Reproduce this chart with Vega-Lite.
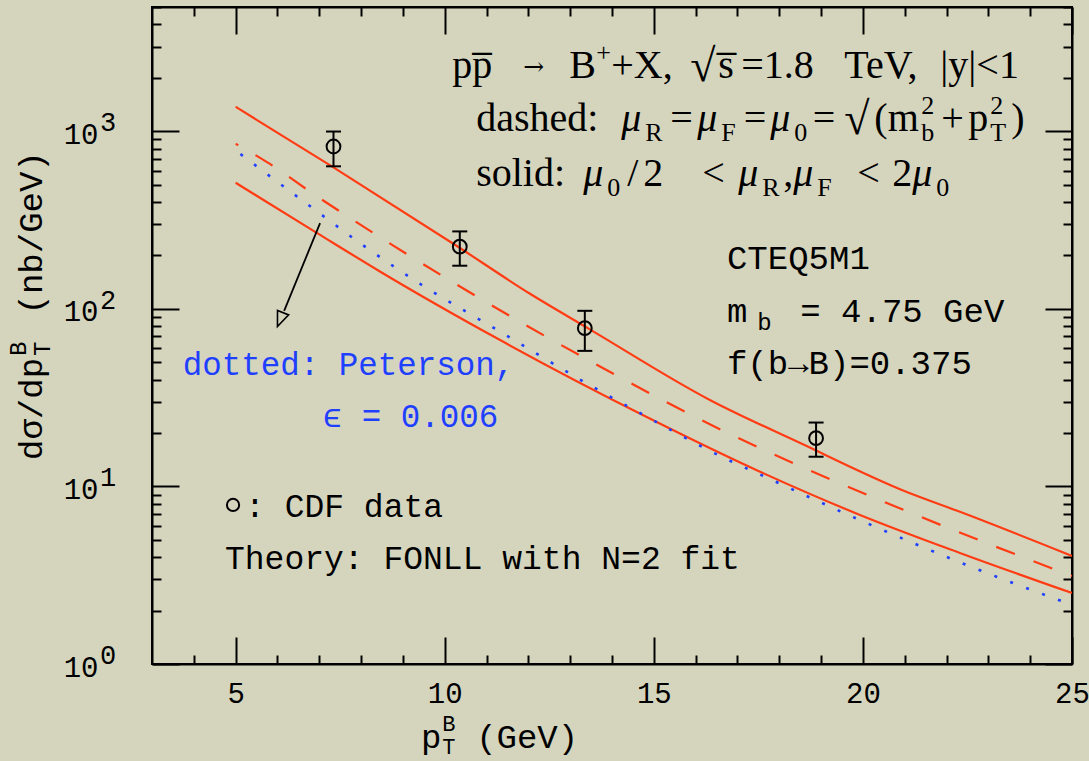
{
  "$schema": "https://vega.github.io/schema/vega-lite/v6.json",
  "width": 920,
  "height": 657,
  "autosize": {"type": "none"},
  "padding": {"left": 152, "top": 7, "right": 17, "bottom": 97},
  "background": "#d5d5be",
  "config": {
    "view": {"stroke": "black", "strokeWidth": 2, "fill": "#d5d5be"},
    "axis": {"grid": false, "title": null, "domainColor": "black", "domainWidth": 2, "tickColor": "black", "tickWidth": 2, "labelColor": "black", "labelOverlap": false, "labelFlush": false, "labelBound": false}
  },
  "datasets": {
    "curves": [
      {"series": "upper", "pt": 5.0, "v": 1374}, {"series": "upper", "pt": 7.32, "v": 630}, {"series": "upper", "pt": 10.29, "v": 226},
      {"series": "upper", "pt": 12.03, "v": 122}, {"series": "upper", "pt": 13.47, "v": 76.7}, {"series": "upper", "pt": 16.34, "v": 30.7},
      {"series": "upper", "pt": 18.49, "v": 17.6}, {"series": "upper", "pt": 21.05, "v": 9.3}, {"series": "upper", "pt": 22.32, "v": 7.2},
      {"series": "upper", "pt": 25.0, "v": 4.06},
      {"series": "lower", "pt": 5.0, "v": 513}, {"series": "lower", "pt": 6.94, "v": 268}, {"series": "lower", "pt": 8.44, "v": 163},
      {"series": "lower", "pt": 11.27, "v": 67.8}, {"series": "lower", "pt": 14.83, "v": 24.6}, {"series": "lower", "pt": 17.54, "v": 12.1},
      {"series": "lower", "pt": 19.93, "v": 6.91}, {"series": "lower", "pt": 22.32, "v": 4.22}, {"series": "lower", "pt": 25.0, "v": 2.51}
    ],
    "central": [
      {"pt": 5.0, "v": 851}, {"pt": 5.74, "v": 673}, {"pt": 6.89, "v": 439}, {"pt": 8.49, "v": 250}, {"pt": 11.72, "v": 86.7},
      {"pt": 14.19, "v": 41.2}, {"pt": 16.08, "v": 24.0}, {"pt": 17.8, "v": 15.4}, {"pt": 21.27, "v": 6.91}, {"pt": 25.0, "v": 3.13}
    ],
    "peterson": [
      {"pt": 5.0, "v": 780}, {"pt": 6.81, "v": 374}, {"pt": 8.13, "v": 221}, {"pt": 9.48, "v": 135}, {"pt": 11.28, "v": 75.5},
      {"pt": 13.39, "v": 38.1}, {"pt": 14.83, "v": 24.7}, {"pt": 16.62, "v": 14.7}, {"pt": 17.78, "v": 11.0}, {"pt": 20.01, "v": 6.34},
      {"pt": 22.28, "v": 3.77}, {"pt": 25.0, "v": 2.15}
    ],
    "cdf": [
      {"pt": 7.34, "val": 821, "lo": 635, "hi": 997},
      {"pt": 10.36, "val": 224, "lo": 175, "hi": 273},
      {"pt": 13.35, "val": 77.9, "lo": 58, "hi": 97.5},
      {"pt": 18.88, "val": 18.7, "lo": 14.7, "hi": 22.9}
    ],
    "legendmark": [{"pt": 4.938, "val": 7.867}],
    "arrow": [{"x0": 7.019, "y0": 304, "x1": 6.16, "y1": 97.4, "xt": 6.0, "yt": 79.5}],
    "decades": [{"v": 1, "e": "0"}, {"v": 10, "e": "1"}, {"v": 100, "e": "2"}, {"v": 1000, "e": "3"}],
    "notes": [
      {"x": 10.177, "y": 2001, "t": "pp̅", "kind": "rm"},
      {"x": 11.876, "y": 2001, "t": "→", "kind": "arrowglyph"},
      {"x": 12.976, "y": 2001, "t": "B", "kind": "rm"},
      {"x": 13.622, "y": 2001, "t": "+", "kind": "sup"},
      {"x": 13.981, "y": 2001, "t": "+X,", "kind": "rm"},
      {"x": 15.871, "y": 2001, "t": "√", "kind": "rad"},
      {"x": 16.541, "y": 2001, "t": "s̅", "kind": "rm"},
      {"x": 17.091, "y": 2001, "t": "=1.8", "kind": "rm"},
      {"x": 19.555, "y": 2001, "t": "TeV,", "kind": "rm"},
      {"x": 21.852, "y": 2001, "t": "|y|<1", "kind": "rm"},

      {"x": 10.751, "y": 1006.5, "t": "dashed:", "kind": "rm"},
      {"x": 14.22, "y": 1006.5, "t": "μ", "kind": "it"},
      {"x": 14.794, "y": 1006.5, "t": "R", "kind": "sub"},
      {"x": 15.392, "y": 1006.5, "t": "=", "kind": "rm"},
      {"x": 16.038, "y": 1006.5, "t": "μ", "kind": "it"},
      {"x": 16.612, "y": 1006.5, "t": "F", "kind": "sub"},
      {"x": 17.151, "y": 1006.5, "t": "=", "kind": "rm"},
      {"x": 17.785, "y": 1006.5, "t": "μ", "kind": "it"},
      {"x": 18.359, "y": 1006.5, "t": "0", "kind": "sub"},
      {"x": 18.801, "y": 1006.5, "t": "=", "kind": "rm"},
      {"x": 19.555, "y": 1006.5, "t": "√", "kind": "rad"},
      {"x": 20.273, "y": 1006.5, "t": "(m", "kind": "rm"},
      {"x": 21.397, "y": 1006.5, "t": "2", "kind": "sup"},
      {"x": 21.397, "y": 1006.5, "t": "b", "kind": "sub"},
      {"x": 21.876, "y": 1006.5, "t": "+", "kind": "rm"},
      {"x": 22.522, "y": 1006.5, "t": "p", "kind": "rm"},
      {"x": 23.048, "y": 1006.5, "t": "2", "kind": "sup"},
      {"x": 23.048, "y": 1006.5, "t": "T", "kind": "sub"},
      {"x": 23.55, "y": 1006.5, "t": ")", "kind": "rm"},

      {"x": 10.751, "y": 493.2, "t": "solid:", "kind": "rm"},
      {"x": 13.311, "y": 493.2, "t": "μ", "kind": "it"},
      {"x": 13.885, "y": 493.2, "t": "0", "kind": "sub"},
      {"x": 14.364, "y": 493.2, "t": "/", "kind": "rm"},
      {"x": 14.746, "y": 493.2, "t": "2", "kind": "rm"},
      {"x": 16.158, "y": 493.2, "t": "<", "kind": "rm"},
      {"x": 17.019, "y": 493.2, "t": "μ", "kind": "it"},
      {"x": 17.593, "y": 493.2, "t": "R", "kind": "sub"},
      {"x": 18.096, "y": 493.2, "t": ",", "kind": "rm"},
      {"x": 18.335, "y": 493.2, "t": "μ", "kind": "it"},
      {"x": 18.909, "y": 493.2, "t": "F", "kind": "sub"},
      {"x": 19.866, "y": 493.2, "t": "<", "kind": "rm"},
      {"x": 20.703, "y": 493.2, "t": "2", "kind": "rm"},
      {"x": 21.182, "y": 493.2, "t": "μ", "kind": "it"},
      {"x": 21.756, "y": 493.2, "t": "0", "kind": "sub"},

      {"x": 16.749, "y": 168.1, "t": "CTEQ5M1", "kind": "tt"},
      {"x": 16.749, "y": 84.8, "t": "m", "kind": "tt"},
      {"x": 17.474, "y": 84.8, "t": "b", "kind": "ttsub"},
      {"x": 18.502, "y": 84.8, "t": "= 4.75 GeV", "kind": "tt"},
      {"x": 16.749, "y": 43.03, "t": "f(b→B)=0.375", "kind": "tt"},
      {"x": 5.225, "y": 6.733, "t": ": CDF data", "kind": "tt33"},
      {"x": 4.746, "y": 3.407, "t": "Theory: FONLL with N=2 fit", "kind": "tt33"},
      {"x": 3.734, "y": 42.48, "t": "dotted: Peterson,", "kind": "blue"},
      {"x": 7.084, "y": 21.56, "t": "ϵ = 0.006", "kind": "blue"},

      {"x": 9.435, "y": 0.3363, "t": "p", "kind": "tt"},
      {"x": 9.938, "y": 0.3363, "t": "B", "kind": "ttsup"},
      {"x": 9.938, "y": 0.3363, "t": "T", "kind": "ttsub2"},
      {"x": 10.751, "y": 0.3363, "t": "(GeV)", "kind": "tt"},

      {"x": 0.368, "y": 14.1, "t": "dσ/dp", "kind": "vt"},
      {"x": 0.368, "y": 54.35, "t": "B", "kind": "vtsup"},
      {"x": 0.368, "y": 54.35, "t": "T", "kind": "vtsub"},
      {"x": 0.368, "y": 93.0, "t": "(nb/GeV)", "kind": "vt"}
    ]
  },
  "layer": [
    {
      "data": {"name": "curves"},
      "mark": {"type": "line", "color": "#ff3c14", "strokeWidth": 2.2, "clip": true, "interpolate": "monotone"},
      "encoding": {
        "x": {"field": "pt", "type": "quantitative", "scale": {"domain": [3, 25], "nice": false, "zero": false},
          "axis": {"orient": "bottom", "values": [4,5,6,7,8,9,10,11,12,13,14,15,16,17,18,19,20,21,22,23,24,25],
            "tickSize": {"condition": {"test": "datum.value % 5 === 0", "value": -27}, "value": -9},
            "labelExpr": "datum.value % 5 === 0 ? datum.label : ''",
            "labelFont": "Liberation Mono", "labelFontSize": 29, "labelPadding": 42, "labelBaseline": "top"}},
        "y": {"field": "v", "type": "quantitative", "scale": {"type": "log", "domain": [1, 5012], "nice": false},
          "axis": {"orient": "left", "values": [1,2,3,4,5,6,7,8,9,10,20,30,40,50,60,70,80,90,100,200,300,400,500,600,700,800,900,1000,2000,3000,4000,5000],
            "tickSize": {"condition": {"test": "datum.value === 1 || datum.value === 10 || datum.value === 100 || datum.value === 1000", "value": -27}, "value": -9},
            "labelExpr": "(datum.value === 1 || datum.value === 10 || datum.value === 100 || datum.value === 1000) ? '10' : ''",
            "labelFont": "Liberation Mono", "labelFontSize": 29, "labelPadding": 81, "labelBaseline": "middle", "labelOffset": 3}},
        "detail": {"field": "series", "type": "nominal"}
      }
    },
    {
      "data": {"name": "central"},
      "mark": {"type": "line", "color": "#ff3c14", "strokeWidth": 2.2, "strokeDash": [20, 20], "strokeDashOffset": 17, "clip": true, "interpolate": "monotone"},
      "encoding": {
        "x": {"field": "pt", "type": "quantitative", "scale": {"domain": [3, 25], "nice": false, "zero": false}, "axis": null},
        "y": {"field": "v", "type": "quantitative", "scale": {"type": "log", "domain": [1, 5012], "nice": false}, "axis": null}
      }
    },
    {
      "data": {"name": "peterson"},
      "mark": {"type": "line", "color": "#1f3fff", "strokeWidth": 2.6, "strokeDash": [3, 14], "strokeDashOffset": 11, "clip": true, "interpolate": "monotone"},
      "encoding": {
        "x": {"field": "pt", "type": "quantitative", "scale": {"domain": [3, 25], "nice": false, "zero": false}, "axis": null},
        "y": {"field": "v", "type": "quantitative", "scale": {"type": "log", "domain": [1, 5012], "nice": false}, "axis": null}
      }
    },
    {
      "data": {"name": "cdf"},
      "mark": {"type": "rule", "color": "black", "strokeWidth": 2},
      "encoding": {
        "x": {"field": "pt", "type": "quantitative", "scale": {"domain": [3, 25], "nice": false, "zero": false}, "axis": null},
        "y": {"field": "lo", "type": "quantitative", "scale": {"type": "log", "domain": [1, 5012], "nice": false}, "axis": null},
        "y2": {"field": "hi"}
      }
    },
    {
      "data": {"name": "cdf"},
      "mark": {"type": "tick", "orient": "horizontal", "color": "black", "size": 15, "thickness": 2, "opacity": 1},
      "encoding": {
        "x": {"field": "pt", "type": "quantitative", "scale": {"domain": [3, 25], "nice": false, "zero": false}, "axis": null},
        "y": {"field": "lo", "type": "quantitative", "scale": {"type": "log", "domain": [1, 5012], "nice": false}, "axis": null}
      }
    },
    {
      "data": {"name": "cdf"},
      "mark": {"type": "tick", "orient": "horizontal", "color": "black", "size": 15, "thickness": 2, "opacity": 1},
      "encoding": {
        "x": {"field": "pt", "type": "quantitative", "scale": {"domain": [3, 25], "nice": false, "zero": false}, "axis": null},
        "y": {"field": "hi", "type": "quantitative", "scale": {"type": "log", "domain": [1, 5012], "nice": false}, "axis": null}
      }
    },
    {
      "data": {"name": "cdf"},
      "mark": {"type": "point", "shape": "circle", "filled": false, "color": "black", "size": 190, "strokeWidth": 2, "opacity": 1},
      "encoding": {
        "x": {"field": "pt", "type": "quantitative", "scale": {"domain": [3, 25], "nice": false, "zero": false},
          "axis": {"orient": "top", "values": [4,5,6,7,8,9,10,11,12,13,14,15,16,17,18,19,20,21,22,23,24,25],
            "tickSize": {"condition": {"test": "datum.value % 5 === 0", "value": -27}, "value": -9}, "labels": false}},
        "y": {"field": "val", "type": "quantitative", "scale": {"type": "log", "domain": [1, 5012], "nice": false},
          "axis": {"orient": "right", "values": [1,2,3,4,5,6,7,8,9,10,20,30,40,50,60,70,80,90,100,200,300,400,500,600,700,800,900,1000,2000,3000,4000,5000],
            "tickSize": {"condition": {"test": "datum.value === 1 || datum.value === 10 || datum.value === 100 || datum.value === 1000", "value": -27}, "value": -9}, "labels": false}}
      }
    },
    {
      "data": {"name": "legendmark"},
      "mark": {"type": "point", "shape": "circle", "filled": false, "color": "black", "size": 150, "strokeWidth": 2, "opacity": 1},
      "encoding": {
        "x": {"field": "pt", "type": "quantitative", "scale": {"domain": [3, 25], "nice": false, "zero": false}, "axis": null},
        "y": {"field": "val", "type": "quantitative", "scale": {"type": "log", "domain": [1, 5012], "nice": false}, "axis": null}
      }
    },
    {
      "data": {"name": "arrow"},
      "mark": {"type": "rule", "color": "black", "strokeWidth": 1.8},
      "encoding": {
        "x": {"field": "x0", "type": "quantitative", "scale": {"domain": [3, 25], "nice": false, "zero": false}, "axis": null},
        "y": {"field": "y0", "type": "quantitative", "scale": {"type": "log", "domain": [1, 5012], "nice": false}, "axis": null},
        "x2": {"field": "x1"},
        "y2": {"field": "y1"}
      }
    },
    {
      "data": {"name": "arrow"},
      "mark": {"type": "point", "shape": "M0,0L-0.4,-1L0.4,-1Z", "angle": 22, "size": 900, "filled": false, "color": "black", "strokeWidth": 1.6, "opacity": 1},
      "encoding": {
        "x": {"field": "xt", "type": "quantitative", "scale": {"domain": [3, 25], "nice": false, "zero": false}, "axis": null},
        "y": {"field": "yt", "type": "quantitative", "scale": {"type": "log", "domain": [1, 5012], "nice": false}, "axis": null}
      }
    },
    {
      "data": {"name": "decades"},
      "mark": {"type": "text", "font": "Liberation Mono", "fontSize": 27, "align": "left", "baseline": "alphabetic", "color": "black", "clip": false},
      "encoding": {
        "x": {"datum": 1.756, "type": "quantitative", "scale": {"domain": [3, 25], "nice": false, "zero": false}, "axis": null},
        "y": {"field": "v", "type": "quantitative", "scale": {"type": "log", "domain": [1, 5012], "nice": false}, "axis": null},
        "text": {"field": "e"}
      }
    },
    {
      "data": {"name": "notes"},
      "transform": [{"filter": "datum.kind === 'rm'"}],
      "mark": {"type": "text", "font": "Liberation Serif", "fontSize": 40, "align": "left", "baseline": "alphabetic", "color": "black"},
      "encoding": {
        "x": {"field": "x", "type": "quantitative", "scale": {"domain": [3, 25], "nice": false, "zero": false}, "axis": null},
        "y": {"field": "y", "type": "quantitative", "scale": {"type": "log", "domain": [1, 5012], "nice": false}, "axis": null},
        "text": {"field": "t"}
      }
    },
    {
      "data": {"name": "notes"},
      "transform": [{"filter": "datum.kind === 'rad'"}],
      "mark": {"type": "text", "font": "Liberation Serif", "fontSize": 46, "align": "left", "baseline": "alphabetic", "dy": 3, "color": "black"},
      "encoding": {
        "x": {"field": "x", "type": "quantitative", "scale": {"domain": [3, 25], "nice": false, "zero": false}, "axis": null},
        "y": {"field": "y", "type": "quantitative", "scale": {"type": "log", "domain": [1, 5012], "nice": false}, "axis": null},
        "text": {"field": "t"}
      }
    },
    {
      "data": {"name": "notes"},
      "transform": [{"filter": "datum.kind === 'arrowglyph'"}],
      "mark": {"type": "text", "font": "DejaVu Serif", "fontSize": 25, "align": "left", "baseline": "alphabetic", "dy": -3, "color": "black"},
      "encoding": {
        "x": {"field": "x", "type": "quantitative", "scale": {"domain": [3, 25], "nice": false, "zero": false}, "axis": null},
        "y": {"field": "y", "type": "quantitative", "scale": {"type": "log", "domain": [1, 5012], "nice": false}, "axis": null},
        "text": {"field": "t"}
      }
    },
    {
      "data": {"name": "notes"},
      "transform": [{"filter": "datum.kind === 'it'"}],
      "mark": {"type": "text", "font": "Liberation Serif", "fontSize": 40, "fontStyle": "italic", "align": "left", "baseline": "alphabetic", "color": "black"},
      "encoding": {
        "x": {"field": "x", "type": "quantitative", "scale": {"domain": [3, 25], "nice": false, "zero": false}, "axis": null},
        "y": {"field": "y", "type": "quantitative", "scale": {"type": "log", "domain": [1, 5012], "nice": false}, "axis": null},
        "text": {"field": "t"}
      }
    },
    {
      "data": {"name": "notes"},
      "transform": [{"filter": "datum.kind === 'sub'"}],
      "mark": {"type": "text", "font": "Liberation Serif", "fontSize": 26, "align": "left", "baseline": "alphabetic", "dy": 10, "color": "black"},
      "encoding": {
        "x": {"field": "x", "type": "quantitative", "scale": {"domain": [3, 25], "nice": false, "zero": false}, "axis": null},
        "y": {"field": "y", "type": "quantitative", "scale": {"type": "log", "domain": [1, 5012], "nice": false}, "axis": null},
        "text": {"field": "t"}
      }
    },
    {
      "data": {"name": "notes"},
      "transform": [{"filter": "datum.kind === 'sup'"}],
      "mark": {"type": "text", "font": "Liberation Serif", "fontSize": 26, "align": "left", "baseline": "alphabetic", "dy": -17, "color": "black"},
      "encoding": {
        "x": {"field": "x", "type": "quantitative", "scale": {"domain": [3, 25], "nice": false, "zero": false}, "axis": null},
        "y": {"field": "y", "type": "quantitative", "scale": {"type": "log", "domain": [1, 5012], "nice": false}, "axis": null},
        "text": {"field": "t"}
      }
    },
    {
      "data": {"name": "notes"},
      "transform": [{"filter": "datum.kind === 'tt'"}],
      "mark": {"type": "text", "font": "Liberation Mono", "fontSize": 34, "align": "left", "baseline": "alphabetic", "color": "black", "clip": false},
      "encoding": {
        "x": {"field": "x", "type": "quantitative", "scale": {"domain": [3, 25], "nice": false, "zero": false}, "axis": null},
        "y": {"field": "y", "type": "quantitative", "scale": {"type": "log", "domain": [1, 5012], "nice": false}, "axis": null},
        "text": {"field": "t"}
      }
    },
    {
      "data": {"name": "notes"},
      "transform": [{"filter": "datum.kind === 'tt33'"}],
      "mark": {"type": "text", "font": "Liberation Mono", "fontSize": 33, "align": "left", "baseline": "alphabetic", "color": "black"},
      "encoding": {
        "x": {"field": "x", "type": "quantitative", "scale": {"domain": [3, 25], "nice": false, "zero": false}, "axis": null},
        "y": {"field": "y", "type": "quantitative", "scale": {"type": "log", "domain": [1, 5012], "nice": false}, "axis": null},
        "text": {"field": "t"}
      }
    },
    {
      "data": {"name": "notes"},
      "transform": [{"filter": "datum.kind === 'ttsub'"}],
      "mark": {"type": "text", "font": "Liberation Mono", "fontSize": 24, "align": "left", "baseline": "alphabetic", "dy": 8, "color": "black", "clip": false},
      "encoding": {
        "x": {"field": "x", "type": "quantitative", "scale": {"domain": [3, 25], "nice": false, "zero": false}, "axis": null},
        "y": {"field": "y", "type": "quantitative", "scale": {"type": "log", "domain": [1, 5012], "nice": false}, "axis": null},
        "text": {"field": "t"}
      }
    },
    {
      "data": {"name": "notes"},
      "transform": [{"filter": "datum.kind === 'ttsub2'"}],
      "mark": {"type": "text", "font": "Liberation Mono", "fontSize": 22, "align": "left", "baseline": "alphabetic", "dy": 6, "color": "black", "clip": false},
      "encoding": {
        "x": {"field": "x", "type": "quantitative", "scale": {"domain": [3, 25], "nice": false, "zero": false}, "axis": null},
        "y": {"field": "y", "type": "quantitative", "scale": {"type": "log", "domain": [1, 5012], "nice": false}, "axis": null},
        "text": {"field": "t"}
      }
    },
    {
      "data": {"name": "notes"},
      "transform": [{"filter": "datum.kind === 'ttsup'"}],
      "mark": {"type": "text", "font": "Liberation Mono", "fontSize": 22, "align": "left", "baseline": "alphabetic", "dy": -17, "color": "black", "clip": false},
      "encoding": {
        "x": {"field": "x", "type": "quantitative", "scale": {"domain": [3, 25], "nice": false, "zero": false}, "axis": null},
        "y": {"field": "y", "type": "quantitative", "scale": {"type": "log", "domain": [1, 5012], "nice": false}, "axis": null},
        "text": {"field": "t"}
      }
    },
    {
      "data": {"name": "notes"},
      "transform": [{"filter": "datum.kind === 'blue'"}],
      "mark": {"type": "text", "font": "Liberation Mono", "fontSize": 32.5, "align": "left", "baseline": "alphabetic", "color": "#1f3fff"},
      "encoding": {
        "x": {"field": "x", "type": "quantitative", "scale": {"domain": [3, 25], "nice": false, "zero": false}, "axis": null},
        "y": {"field": "y", "type": "quantitative", "scale": {"type": "log", "domain": [1, 5012], "nice": false}, "axis": null},
        "text": {"field": "t"}
      }
    },
    {
      "data": {"name": "notes"},
      "transform": [{"filter": "datum.kind === 'vt'"}],
      "mark": {"type": "text", "font": "Liberation Mono", "fontSize": 34, "angle": 270, "align": "left", "baseline": "alphabetic", "color": "black", "clip": false},
      "encoding": {
        "x": {"field": "x", "type": "quantitative", "scale": {"domain": [3, 25], "nice": false, "zero": false}, "axis": null},
        "y": {"field": "y", "type": "quantitative", "scale": {"type": "log", "domain": [1, 5012], "nice": false}, "axis": null},
        "text": {"field": "t"}
      }
    },
    {
      "data": {"name": "notes"},
      "transform": [{"filter": "datum.kind === 'vtsup'"}],
      "mark": {"type": "text", "font": "Liberation Mono", "fontSize": 24, "angle": 270, "align": "left", "baseline": "alphabetic", "dy": -16, "color": "black", "clip": false},
      "encoding": {
        "x": {"field": "x", "type": "quantitative", "scale": {"domain": [3, 25], "nice": false, "zero": false}, "axis": null},
        "y": {"field": "y", "type": "quantitative", "scale": {"type": "log", "domain": [1, 5012], "nice": false}, "axis": null},
        "text": {"field": "t"}
      }
    },
    {
      "data": {"name": "notes"},
      "transform": [{"filter": "datum.kind === 'vtsub'"}],
      "mark": {"type": "text", "font": "Liberation Mono", "fontSize": 24, "angle": 270, "align": "left", "baseline": "alphabetic", "dy": 8, "color": "black", "clip": false},
      "encoding": {
        "x": {"field": "x", "type": "quantitative", "scale": {"domain": [3, 25], "nice": false, "zero": false}, "axis": null},
        "y": {"field": "y", "type": "quantitative", "scale": {"type": "log", "domain": [1, 5012], "nice": false}, "axis": null},
        "text": {"field": "t"}
      }
    }
  ],
  "resolve": {"axis": {"x": "independent", "y": "independent"}}
}
